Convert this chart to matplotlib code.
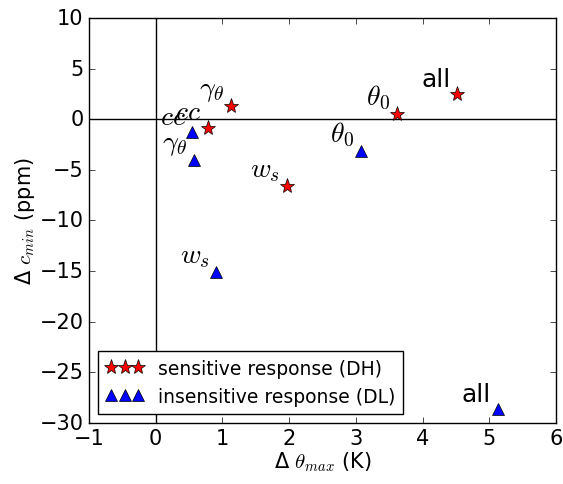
import matplotlib
matplotlib.use('Agg')
import matplotlib.pyplot as plt

plt.style.use('classic')
plt.rcParams['mathtext.fontset'] = 'cm'

labels = ['$cc$', r'$\gamma_\theta$', '$w_s$', r'$\theta_0$', 'all']
dh_x = [0.78, 1.13, 1.97, 3.61, 4.52]
dh_y = [-0.9, 1.3, -6.6, 0.5, 2.5]
dl_x = [0.55, 0.57, 0.91, 3.07, 5.13]
dl_y = [-1.3, -4.0, -15.1, -3.1, -28.6]

fig = plt.figure(figsize=(5.63, 4.85), dpi=100)
ax = fig.add_axes([0.158, 0.126, 0.830, 0.835])
ax.axhline(0, color='k', lw=1)
ax.axvline(0, color='k', lw=1)
ax.plot(dh_x, dh_y, '*', color='red', mec='k', ms=11, label='sensitive response (DH)')
ax.plot(dl_x, dl_y, '^', color='blue', mec='k', ms=9, label='insensitive response (DL)')
for lab, x, y in zip(labels, dh_x, dh_y):
    fs = 18 if lab == 'all' else 20
    ax.annotate(lab, (x, y), xytext=(-5, 2), textcoords='offset points',
                ha='right', va='bottom', fontsize=fs)
for lab, x, y in zip(labels, dl_x, dl_y):
    fs = 18 if lab == 'all' else 20
    ax.annotate(lab, (x, y), xytext=(-5, 2), textcoords='offset points',
                ha='right', va='bottom', fontsize=fs)
ax.set_xlim(-1, 6)
ax.set_ylim(-30, 10)
ax.tick_params(labelsize=15)
ax.set_xlabel(r'Δ $\theta_{max}$ (K)', fontsize=15, labelpad=1)
ax.set_ylabel(r'Δ $c_{min}$ (ppm)', fontsize=15, labelpad=2)
ax.legend(loc='lower left', numpoints=3, fontsize=13.5)
fig.savefig('out.png', dpi=100)
